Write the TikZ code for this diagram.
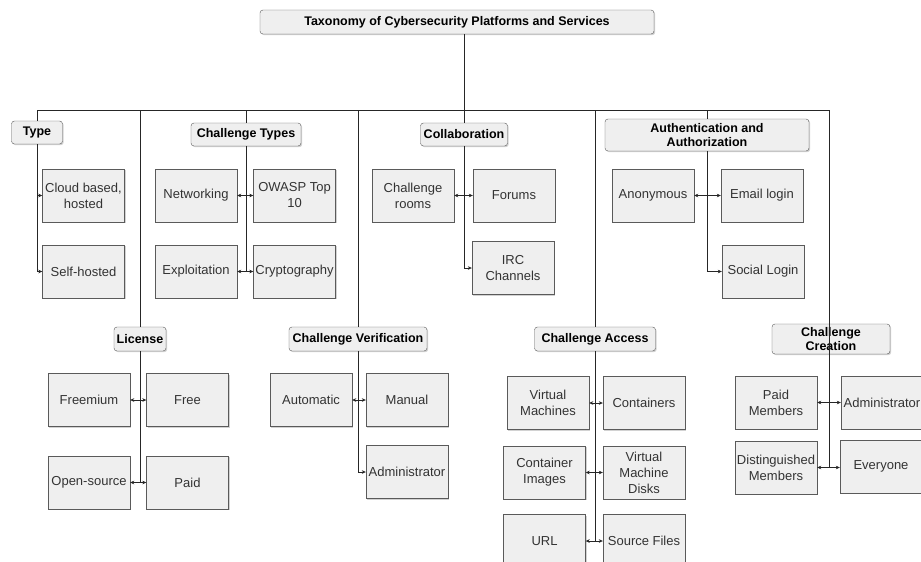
\documentclass[tikz,border=0pt]{standalone}
\usepackage{fontspec}
\setmainfont{Liberation Sans}
\usetikzlibrary{arrows.meta,shadows}
\definecolor{boxfill}{HTML}{EFEFEF}
\definecolor{boxline}{HTML}{5A5A5A}
\definecolor{boxtext}{HTML}{333333}

\tikzset{
  base/.style={draw=boxline, fill=boxfill, inner sep=1pt, align=center,
    drop shadow={shadow xshift=1.2pt, shadow yshift=-1.2pt, opacity=0.35}},
  root/.style={base, rounded corners=3pt, minimum width=394pt, minimum height=24pt,
    font=\fontsize{12.5}{14}\selectfont\bfseries},
  group/.style={base, rounded corners=3pt, minimum height=23pt,
    font=\fontsize{12.5}{14}\selectfont\bfseries},
  leaf/.style={base, minimum width=82pt, minimum height=53pt, text=boxtext,
    font=\fontsize{13}{16}\selectfont},
  link/.style={draw=black!85, line width=0.6pt},
  onearr/.style={link, -{Stealth[length=4pt,width=3.6pt]}},
  twoarr/.style={link, {Stealth[length=4pt,width=3.6pt]}-{Stealth[length=4pt,width=3.6pt]}},
}

\begin{document}
\begin{tikzpicture}[x=1pt,y=-1pt]
        \clip (0,0) rectangle (921,562);
        \fill[white] (0,0) rectangle (921,562);
        \coordinate (bus) at (0,110);
        \coordinate (ccbus) at (829,110);

        \node[root] (root) at (457,22) {Taxonomy of Cybersecurity Platforms and Services};

        \node[group, minimum width=51pt] (type) at (37,132.5) {Type};
        \node[group, minimum width=110pt] (ctypes) at (246,134.5) {Challenge Types};
        \node[group, minimum width=87pt] (collab) at (464,134.5) {Collaboration};
        \node[group, minimum width=204pt, minimum height=32pt] (auth) at (707,135) {Authentication and\\Authorization};
        \node[group, minimum width=52pt, minimum height=24pt] (license) at (140,339) {License};
        \node[group, minimum width=138pt, minimum height=24pt] (verif) at (358,339) {Challenge Verification};
        \node[group, minimum width=121pt, minimum height=24pt] (access) at (595,339) {Challenge Access};
        \node[group, minimum width=118pt, minimum height=30pt] (create) at (831,339) {Challenge\\Creation};

        \node[leaf] (cloud) at (83.5,195.5) {Cloud based,\\hosted};
        \node[leaf] (selfh) at (83.5,271.5) {Self-hosted};

        \node[leaf] (net) at (196,195.5) {Networking};
        \node[leaf] (owasp) at (294.5,195.5) {OWASP Top\\10};
        \node[leaf] (expl) at (196,271.5) {Exploitation};
        \node[leaf] (crypto) at (294.5,271.5) {Cryptography};

        \node[leaf] (rooms) at (413,195.5) {Challenge\\rooms};
        \node[leaf] (forums) at (514,195.5) {Forums};
        \node[leaf] (irc) at (513,268) {IRC\\Channels};

        \node[leaf] (anon) at (653,195.5) {Anonymous};
        \node[leaf] (email) at (762,195.5) {Email login};
        \node[leaf] (social) at (763,271.5) {Social Login};

        \node[leaf] (freem) at (89,400) {Freemium};
        \node[leaf] (free) at (187.5,400) {Free};
        \node[leaf] (opens) at (89,482.5) {Open-source};
        \node[leaf] (paid) at (187.5,482.5) {Paid};

        \node[leaf] (auto) at (311,400) {Automatic};
        \node[leaf] (manual) at (407,400) {Manual};
        \node[leaf] (vadmin) at (407,472) {Administrator};

        \node[leaf] (vm) at (548,403) {Virtual\\Machines};
        \node[leaf] (cont) at (644,403) {Containers};
        \node[leaf] (cimg) at (544.5,472.5) {Container\\Images};
        \node[leaf] (vmd) at (644,472.5) {Virtual\\Machine\\Disks};
        \node[leaf] (url) at (544.5,541) {URL};
        \node[leaf] (src) at (644,541) {Source Files};

        \node[leaf] (paidm) at (776,402.5) {Paid\\Members};
        \node[leaf] (cadmin) at (882,402.5) {Administrator};
        \node[leaf] (dist) at (776,467.5) {Distinguished\\Members};
        \node[leaf] (every) at (881,466.5) {Everyone};

        % bus to the groups
        \draw[link] (type |- bus) -- (ccbus);
        \draw[link] (root.south -| collab) -- (collab);
        \foreach \g in {type,ctypes,auth,license,verif,access}
            \draw[link] (\g |- bus) -- (\g);

        % groups to leaves
        \draw[onearr] (type) |- (cloud);
        \draw[onearr] (type) |- (selfh);

        \draw[link] (ctypes) -- (ctypes |- crypto);
        \draw[twoarr] (net) -- (owasp);
        \draw[twoarr] (expl) -- (crypto);

        \draw[twoarr] (rooms) -- (forums);
        \draw[onearr] (collab) |- (irc);

        \draw[twoarr] (anon) -- (email);
        \draw[onearr] (auth) |- (social);

        \draw[link] (license) -- (license |- paid);
        \draw[twoarr] (freem) -- (free);
        \draw[twoarr] (opens) -- (paid);

        \draw[twoarr] (auto) -- (manual);
        \draw[onearr] (verif) |- (vadmin);

        \draw[link] (access) -- (access |- url);
        \draw[twoarr] (vm) -- (cont);
        \draw[twoarr] (cimg) -- (vmd);
        \draw[twoarr] (url) -- (src);

        \draw[link] (ccbus) -- (ccbus |- dist);
        \draw[twoarr] (paidm) -- (cadmin);
        \draw[twoarr] (dist.east) -- (dist.east -| every.west);
\end{tikzpicture}
\end{document}
